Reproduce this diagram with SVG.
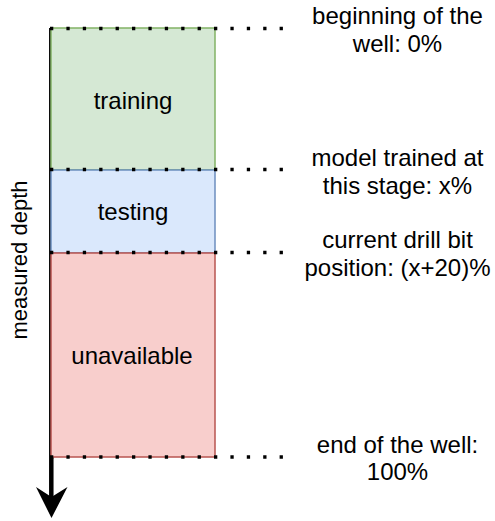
<svg xmlns="http://www.w3.org/2000/svg" width="495" height="521" viewBox="0 0 495 521">
  <style>
    text { font-family: "Liberation Sans", Arial, sans-serif; font-size: 24px; fill: #000; text-anchor: middle; }
    .axis-label { font-size: 22px; }
    .band { stroke-width: 1.5; }
    .mark { stroke: #000; stroke-width: 3.3; stroke-dasharray: 3.3 13.1; fill: none; }
  </style>

  <!-- depth axis arrow (drawn first, bands overlap its right half) -->
  <g id="depth-axis">
    <line x1="51.3" y1="28" x2="51.3" y2="500" stroke="#000" stroke-width="4.5"/>
    <polygon points="51.5,518 36,487 51.5,497 67.5,487" fill="#000"/>
    <text class="axis-label" transform="translate(27,260) rotate(-90)">measured depth</text>
  </g>

  <g id="training">
    <rect class="band" x="51" y="28" width="164" height="142" fill="#d5e8d4" stroke="#82b366"/>
    <text x="133" y="109">training</text>
  </g>
  <g id="testing">
    <rect class="band" x="51" y="170" width="164" height="83" fill="#dae8fc" stroke="#6c8ebf"/>
    <text x="133" y="220">testing</text>
  </g>
  <g id="unavailable">
    <rect class="band" x="51" y="253" width="164" height="204" fill="#f8cecc" stroke="#b85450"/>
    <text x="132" y="364">unavailable</text>
  </g>

  <!-- dotted depth markers -->
  <g id="connectors">
    <line class="mark" x1="50" y1="28.5" x2="286" y2="28.5"/>
    <line class="mark" x1="50" y1="169.5" x2="286" y2="169.5"/>
    <line class="mark" x1="50" y1="252.5" x2="286" y2="252.5"/>
    <line class="mark" x1="50" y1="457" x2="286" y2="457"/>
  </g>

  <g id="label-start">
    <text x="397.5" y="24">beginning of the</text>
    <text x="397.5" y="51.5">well: 0%</text>
  </g>
  <g id="label-trained">
    <text x="397.5" y="166">model trained at</text>
    <text x="397.5" y="193.5">this stage: x%</text>
  </g>
  <g id="label-drill">
    <text x="397.5" y="248">current drill bit</text>
    <text x="397.5" y="275.5">position: (x+20)%</text>
  </g>
  <g id="label-end">
    <text x="397.5" y="452.5">end of the well:</text>
    <text x="397.5" y="480">100%</text>
  </g>
</svg>
